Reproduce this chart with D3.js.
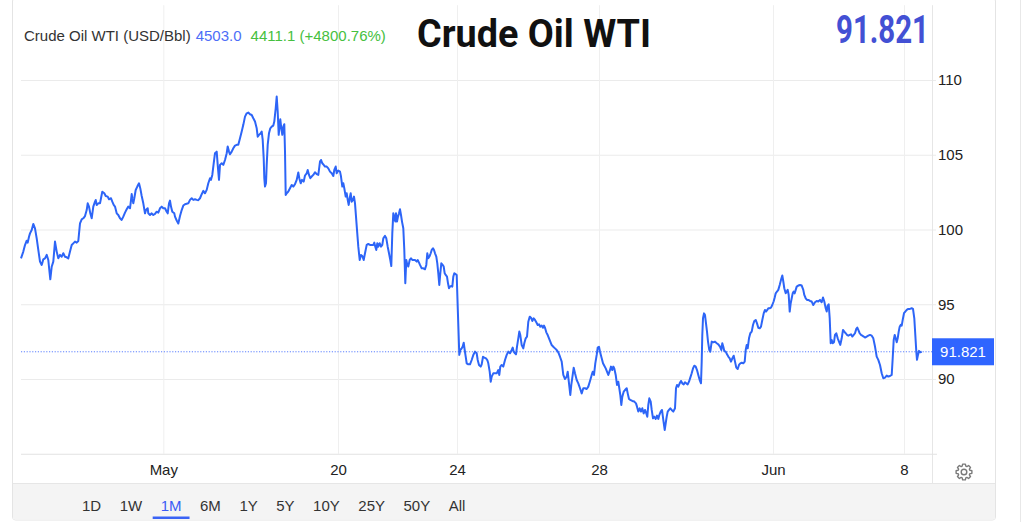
<!DOCTYPE html>
<html><head><meta charset="utf-8">
<script src="https://cdn.jsdelivr.net/npm/d3@7/dist/d3.min.js"></script>
<style>html,body{margin:0;padding:0;background:#fff;}svg{display:block;}</style>
</head><body><svg id="c" width="1024" height="528"></svg>
<script>
// ---- DATA: [trading-hour offset, price] ----
const pricesWeek1 = [[0,98.07],[2.3,98.52],[4,98.96],[5.7,99.25],[6.7,99.12],[8,99.52],[9,99.74],[10.7,99.97],[12.3,100.37],[14,100.08],[15.7,99.41],[17.3,98.63],[19,97.85],[20.7,97.63],[22.3,98.0],[24,98.07],[25.7,98.3],[27.3,97.96],[28.3,97.29],[29.3,96.67],[30.7,97.51],[32.3,97.85],[34,99.19],[35.7,98.52],[37.3,98.07],[39,98.3],[40.7,98.18],[42.3,98.41],[44,98.18],[45.7,98.14],[47.3,98.07],[49,98.52],[50.7,98.96],[52.3,99.07],[54,99.19],[55.7,99.12],[57.3,99.23],[59,100.41],[60.7,100.68],[62.3,100.75],[64,100.9],[65.7,101.3],[66.7,101.75],[68,101.53],[69.3,101.08],[70.7,100.75],[72.3,101.53],[74,101.86],[74.7,101.97],[75.7,101.64],[77.3,101.75],[79,101.75],[80,102.09],[81.3,102.53],[83.3,102.42],[84.7,102.24],[86.7,102.2],[88,102.02],[90,102.09],[91.3,101.86],[92.7,101.64],[94,101.53],[95.7,101.08],[97.3,100.97],[99,100.75],[100.7,100.64],[102.3,100.86],[104,101.13],[105.7,101.35],[107.3,101.53],[109,101.42],[110,101.97],[110.7,102.37],[111.3,102.09],[112.3,101.75],[113.3,102.09],[114.7,102.64],[116.3,102.87],[118,103.09],[119.3,102.75],[120.7,102.24],[122.3,101.75],[124,101.08],[125,101.3],[126.7,101.42],[127.3,101.08],[129,100.97],[130.7,101.08],[132.3,100.97],[134,101.04],[135.7,101.19],[137.3,101.13],[139,101.42],[140.7,101.53],[142.3,101.42],[144,101.42],[145.7,101.19],[146.7,101.08],[148,101.75],[149,101.93],[150,101.53],[151.3,101.19],[153.3,101.08],[154,100.86],[155.7,100.6],[157.3,100.4],[159,100.9],[160.7,101.3],[162.3,101.6]];
const pricesWeek2 = [[164,101.69],[167.3,101.75],[169,101.98],[170.7,102.09],[172.3,101.98],[174,102.02],[175.7,101.98],[177.3,101.96],[179,102.09],[180.7,102.36],[182.3,102.58],[184,102.42],[185.7,102.65],[187.3,103.09],[189,103.43],[190,103.32],[191.3,103.65],[192.7,104.43],[194,105.1],[195.7,105.21],[196.7,104.32],[198,103.32],[199,104.32],[200.7,104.43],[202.3,104.32],[204,104.65],[205.7,105.1],[206.7,105.55],[208,105.21],[209,105.03],[210.7,105.21],[212.3,105.43],[214,105.61],[215.7,105.66],[217.3,105.66],[219,106.1],[220.7,106.55],[222.3,107.0],[224,107.55],[225.7,107.77],[227.3,107.82],[229,107.71],[230.7,107.66],[232.3,107.44],[234,107.22],[235.7,106.77],[236.7,106.21],[238,106.33],[239.7,106.44],[240.7,106.55],[241.7,105.99],[242.7,104.76],[243.3,103.43],[244,102.87],[245,103.09],[245.7,104.32],[246.7,105.66],[248,106.44],[249.3,106.77],[250.7,106.88],[252.3,106.95],[253.3,107.22],[254.7,108.11],[255.7,108.89],[256.7,107.89],[257.7,106.33],[258.7,107.0],[259.3,107.37],[260.3,106.77],[261.3,106.33],[262.3,106.88],[263.3,107.04],[264,105.21],[264.7,102.31],[265.7,102.42],[267.3,102.54],[269,102.76],[270.7,102.98],[272.3,102.87],[274,103.03],[275.7,103.32],[277.3,103.81],[278.3,103.43],[279.7,103.09],[281,103.32],[282.7,103.2],[284,103.61],[285.7,103.76],[286.7,103.98],[288,103.65],[289.3,103.43],[290.7,103.54],[292.3,103.65],[294,103.83],[295.7,103.7],[297.3,103.65],[299,104.54],[300,104.65],[301.3,104.43],[302.7,104.32],[304,104.21]];
const pricesWeek3 = [[305.7,104.21],[307.3,104.09],[309,103.87],[310.7,103.76],[312.3,103.58],[313.3,103.98],[314.7,104.21],[315.7,103.76],[317.3,103.94],[319,103.87],[320,103.54],[321.3,102.87],[322.3,103.09],[323.3,102.76],[324.7,102.2],[325.7,102.42],[326.7,101.98],[327.7,101.64],[328.7,102.09],[329.7,102.42],[330.7,101.86],[332,101.98],[333,102.2],[334,101.75],[335,100.86],[336,99.97],[337.3,98.85],[338.7,97.96],[340,98.3],[341.3,98.23],[342.7,97.96],[344,98.41],[345.7,98.97],[347.3,99.03],[349,98.97],[350.7,98.97],[352.3,98.97],[353.3,99.12],[354.3,98.85],[355.3,98.63],[356.3,99.08],[357.3,98.85],[358.7,99.08],[360,98.85],[361.3,98.97],[362.3,99.41],[364,99.57],[365.3,99.41],[366.7,98.85],[368,98.41],[369.3,97.96],[370.3,97.56],[371.3,99.75],[372.3,101.08],[373.3,100.86],[374.3,100.53],[375,101.08],[376,100.53],[377,100.86],[378,101.08],[379,101.35],[380,100.97],[381,100.53],[382.3,100.08],[383.3,98.63],[384.3,96.4],[385.3,97.96],[386.3,97.63],[387.3,97.52],[388.7,97.96],[390,98.07],[391.3,97.96],[392.7,97.96],[394,97.96],[395.7,97.85],[396.7,97.96],[398,97.78],[399,97.63],[400.7,97.4],[402.3,97.4],[404,97.34],[405.3,97.63],[406.3,98.41],[407.3,98.07],[408.7,98.23],[409.7,98.41],[410.7,98.63],[412,98.74],[413,98.63],[414,98.41],[415.3,98.19],[416.3,97.74],[417.3,97.07],[418.3,96.29],[419.3,97.07],[420.3,97.74],[421.7,97.63],[422.7,97.52],[423.7,97.07],[424.7,96.96],[426,96.85],[427,96.4],[428,96.07],[429,96.18],[430,96.22],[431.3,96.18],[432.3,96.85],[433.3,97.07],[434.3,97.03],[435.7,96.96],[436.7,94.84],[437.7,92.83],[438.3,91.61],[439.3,91.94],[440.7,92.05],[441.7,92.17],[442.7,92.43],[443.7,91.94],[444.7,91.5],[445.7,91.05],[447.3,90.98],[449,90.98],[450.7,91.27],[452.3,91.61],[454,91.83]];
const pricesWeek4 = [[455.7,91.72],[456.7,91.27],[458,90.94],[459.7,90.83],[460.7,90.98],[462,91.49],[463.3,91.43],[465,91.38],[466.3,91.27],[467.3,91.05],[468.7,90.49],[469.7,89.82],[470.7,90.16],[472.3,90.38],[474,90.38],[475.7,90.38],[477.3,90.6],[478.3,90.27],[479.3,90.83],[480.7,90.94],[482.3,90.83],[484,91.27],[485.7,91.61],[487.3,91.83],[489,91.72],[490.7,91.94],[491.7,92.1],[492.7,91.83],[494,91.72],[495,91.65],[496,92.16],[497.3,92.72],[498.3,93.17],[499.3,92.94],[500.7,92.27],[502.3,92.05],[503.3,92.39],[504.7,92.72],[506,92.83],[507.3,93.83],[508.7,94.17],[510,94.1],[511.3,93.88],[512.7,94.06],[514,93.95],[515.3,93.79],[516.7,93.61],[518,93.66],[519.3,93.5],[520.7,93.57],[522,93.43],[523,93.57],[524,93.43],[525.3,93.12],[526.7,92.94],[528,92.72],[529.3,92.5],[530.7,92.27],[532.3,92.16],[534,92.05],[535.7,91.94],[537.3,91.78],[539,91.49],[540.7,91.16],[542.3,90.27],[544,90.0],[545.7,90.16],[546.7,90.49],[548,89.71],[549.3,88.93],[550.3,89.6],[551.7,90.27],[552.7,90.76],[554,90.38],[555.7,89.93],[557.3,89.71],[559,89.38],[560.7,89.04],[562.3,89.38],[564,89.38],[565.7,89.33],[567.3,89.49],[569,89.87],[570.7,90.27],[571.7,90.49],[573,90.27],[574.3,91.05],[575.7,91.61],[576.7,92.1],[578,92.16],[579,91.83],[580.7,91.38],[582,91.05],[583.3,90.89],[584.7,90.71],[586,90.49],[587.3,90.27],[588.7,90.54],[590,90.83],[591.3,90.6],[592.3,90.83],[593.3,90.71],[594.7,90.27],[596,89.6],[597.3,89.82],[598.3,89.38],[599.3,88.93],[600.3,88.26],[601.3,88.82],[602.7,89.15],[604,89.26]];
const pricesWeek5 = [[605.7,89.38],[606.7,89.04],[608,88.66],[609.3,88.6],[611.3,88.53],[613.3,88.49],[615,88.37],[616,88.15],[617.3,87.82],[618.7,88.04],[620,87.82],[621.3,88.04],[622.7,87.7],[624,87.93],[625.3,87.7],[626.3,87.48],[627.3,88.26],[628.3,88.71],[629.7,88.49],[630.7,87.93],[632,87.37],[633.3,87.48],[634.7,87.33],[636,87.55],[637.3,87.33],[638.3,87.59],[639.7,87.82],[641,87.93],[642.3,87.26],[643.7,86.59],[644.7,87.04],[645.7,87.48],[646.7,87.82],[648,87.93],[649.3,88.04],[650.7,87.93],[652.3,87.82],[654,88.04],[655,89.38],[656,89.6],[657.3,89.49],[658.7,89.71],[660,89.87],[661.3,89.71],[662.7,89.64],[664,89.78],[665.3,89.71],[666.7,89.64],[668,89.82],[669.3,90.09],[670.7,90.38],[672,90.71],[673.3,90.89],[674.7,90.83],[676,90.6],[677.3,90.27],[678.7,89.93],[680,89.71],[680.7,91.16],[681.3,92.94],[682,94.06],[683,94.39],[684,94.28],[685,93.72],[686,93.17],[687,92.5],[688.3,91.94],[689.3,91.83],[690.7,92.5],[692.3,92.45],[694,92.5],[695.7,92.39],[697.3,92.32],[699,92.16],[700.3,91.94],[701.3,92.39],[702.3,92.16],[703.3,91.87],[704.7,91.83],[706,91.65],[707.3,91.5],[708.7,91.38],[710,91.16],[711.3,91.38],[712.7,91.56],[714,91.16],[715.3,90.76],[716.7,90.67],[718,90.94],[719.3,91.05],[720.7,91.09],[722.3,91.05],[723.7,91.16],[724.7,91.94],[725.7,92.28],[726.7,92.05],[728,92.72],[729.3,93.06],[730.7,93.17],[732,93.61],[733.3,93.88],[734.7,93.95],[736,93.72],[737.3,93.43],[738.7,93.39],[740,93.5],[741.3,93.95],[742.7,94.39],[744,94.62],[745,94.51],[746.3,94.62],[747.3,94.73],[748.7,94.73],[750,94.77],[751.3,94.95],[752.7,95.2],[753.7,95.45]];
const pricesWeek6 = [[754.7,95.73],[756,95.85],[757.3,95.96],[758.7,96.29],[760,96.63],[761.3,96.92],[762.3,96.52],[763.3,96.07],[764.7,95.73],[765.7,95.85],[766.7,95.96],[767.7,95.62],[768.7,94.51],[769.7,95.07],[770.7,95.4],[771.7,95.73],[772.7,95.85],[773.7,95.73],[774.7,95.96],[775.7,96.18],[777.3,96.25],[779,96.29],[780.7,96.25],[782.3,95.96],[783.3,95.62],[784.7,95.4],[786,95.29],[787.3,95.29],[789,95.22],[790.7,95.18],[792.3,94.95],[794,95.13],[795.7,95.22],[797.3,95.18],[799,95.29],[800.7,95.13],[802,95.45],[803.3,95.18],[804.7,94.73],[805.7,94.51],[806.7,94.91],[807.7,95.0],[808.7,94.06],[809.7,92.39],[810.7,92.61],[811.7,92.39],[813,92.46],[814,92.95],[815.3,93.06],[816.7,92.72],[818,92.5],[819.3,92.28],[820.7,92.72],[822,93.28],[823.3,93.17],[824.7,93.06],[826,92.95],[827.3,92.9],[828.7,92.95],[830,92.99],[831.3,92.84],[832.7,92.95],[834,93.06],[835.3,93.35],[836.3,93.44],[837.3,93.28],[838.7,93.06],[840,92.95],[841.3,92.9],[842.7,92.84],[844,92.77],[845.7,92.84],[847.3,92.9],[849,92.95],[850.7,92.9],[852.3,92.72],[854,92.17],[855.7,91.5],[857.3,91.28],[859,90.94],[860.7,90.38],[862.3,90.05],[864,90.09],[865.7,90.23],[867.3,90.16],[869,90.2],[870.7,90.27],[871.7,91.39],[872.7,92.61],[873.7,92.95],[874.7,92.72],[875.7,92.46],[876.7,92.72],[877.7,93.17],[878.7,93.5],[879.7,93.62],[880.7,93.57],[881.7,93.95],[883,94.4],[884.3,94.51],[885.7,94.62],[887.3,94.69],[889,94.69],[890.7,94.73],[892,94.69],[893.3,94.06],[894.3,92.95],[895.3,91.83],[896,91.28],[897,91.61],[898,91.88],[899.3,91.79],[900.7,91.821]];

const lastPrice = 91.821;
const xTickHours  = [142.3, 317, 436, 578, 752, 883];
const xTickLabels = ["May", "20", "24", "28", "Jun", "8"];
const yTicks = [90, 95, 100, 105, 110];
const ranges = ["1D","1W","1M","6M","1Y","5Y","10Y","25Y","50Y","All"];
const activeRange = "1M";
const titleText = "Crude Oil WTI";
const legendName = "Crude Oil WTI (USD/Bbl)";
const legendHigh = "4503.0";
const legendChange = "4411.1 (+4800.76%)";

// ---- DRAW ----
const series = [].concat(pricesWeek1, pricesWeek2, pricesWeek3, pricesWeek4, pricesWeek5, pricesWeek6);
const FONT = "'Liberation Sans', Arial, sans-serif";
const svg = d3.select("#c");
svg.append("rect").attr("width",1024).attr("height",528).attr("fill","#fff");

const L = 21, R = 932, T = 5.23, B = 453.75;
const x = d3.scaleLinear().domain([0, 911]).range([L, R]);
const y = d3.scaleLinear().domain([85, 115]).range([B, T]);

// outer frame
svg.append("rect").attr("x",12.5).attr("y",-2).attr("width",983).attr("height",522)
  .attr("rx",3).attr("fill","none").attr("stroke","#e4e4e4");
svg.append("line").attr("x1",1020.5).attr("x2",1020.5).attr("y1",-2).attr("y2",522).attr("stroke","#e8e8e8");

// range bar
svg.append("rect").attr("x",13).attr("y",483.5).attr("width",982).attr("height",36).attr("fill","#f4f4f4");
svg.append("line").attr("x1",13).attr("x2",995).attr("y1",483.5).attr("y2",483.5).attr("stroke","#e6e6e6");

// horizontal gridlines
const gy = svg.append("g").attr("transform",`translate(936,0)`)
  .call(d3.axisLeft(y).tickValues(yTicks).tickSize(936 - L).tickFormat(""));
gy.select(".domain").remove();
gy.selectAll("line").attr("stroke","#ebebeb");

// vertical gridlines
const gx = svg.append("g").attr("transform",`translate(0,${B})`)
  .call(d3.axisTop(x).tickValues(xTickHours).tickSize(B - T).tickFormat(""));
gx.select(".domain").remove();
gx.selectAll("line").attr("stroke","#efefef");

// plot right border and bottom
svg.append("line").attr("x1",R+0.5).attr("x2",R+0.5).attr("y1",T).attr("y2",483.5).attr("stroke","#e6e6e6");
svg.append("line").attr("x1",L).attr("x2",937).attr("y1",B+0.5).attr("y2",B+0.5).attr("stroke","#e2e2e2");

// y labels
const yl = svg.append("g").attr("transform",`translate(938,0)`)
  .call(d3.axisRight(y).tickValues(yTicks).tickSize(0).tickPadding(0));
yl.select(".domain").remove();
yl.selectAll("text").attr("font-family",FONT).attr("font-size",15).attr("fill","#222");

// x labels
const xl = svg.append("g").attr("transform",`translate(0,464.4)`)
  .call(d3.axisBottom(x).tickValues(xTickHours).tickSize(0).tickPadding(0)
    .tickFormat((d,i) => xTickLabels[i]));
xl.select(".domain").remove();
xl.selectAll("text").attr("font-family",FONT).attr("font-size",15).attr("fill","#222");

// last price dotted line
svg.append("line").attr("x1",L).attr("x2",R).attr("y1",y(lastPrice)).attr("y2",y(lastPrice))
  .attr("stroke","#5d80ff").attr("stroke-width",1).attr("stroke-dasharray","1.2,1.6");

// price line
svg.append("path").datum(series)
  .attr("fill","none").attr("stroke","#2d65f7").attr("stroke-width",2)
  .attr("stroke-linejoin","round")
  .attr("d", d3.line().x(d => x(d[0])).y(d => y(d[1])));

// last price label
svg.append("rect").attr("x",R).attr("y",y(lastPrice)-13.5).attr("width",62).attr("height",27).attr("fill","#2f65ff");
svg.append("text").attr("x",R+31).attr("y",y(lastPrice)+5.5).attr("text-anchor","middle")
  .attr("font-family",FONT).attr("font-size",15).attr("fill","#fff").text(d3.format(".3f")(lastPrice));

// header legend
const hdr = svg.append("text").attr("x",24).attr("y",40.8).attr("font-family",FONT).attr("font-size",15);
hdr.append("tspan").attr("fill","#333").text(legendName);
hdr.append("tspan").attr("fill","#4d6ef7").attr("dx",5).text(legendHigh);
hdr.append("tspan").attr("fill","#46c040").attr("dx",9).text(legendChange);

// title
svg.append("text").attr("x",534).attr("y",46.6).attr("text-anchor","middle")
  .attr("font-family","Roboto, 'DejaVu Sans', sans-serif").attr("font-weight",700).attr("font-size",39.5)
  .attr("fill","#111").attr("textLength",234).attr("lengthAdjust","spacingAndGlyphs").text(titleText);

// big value
svg.append("text").attr("x",929).attr("y",43.4).attr("text-anchor","end")
  .attr("font-family","Roboto, 'DejaVu Sans', sans-serif").attr("font-weight",700).attr("font-size",38.5)
  .attr("fill","#4350d4").attr("textLength",93).attr("lengthAdjust","spacingAndGlyphs")
  .text(d3.format(".3f")(lastPrice));

// range buttons
let cx = 82;
const rg = svg.append("g");
ranges.forEach(r => {
  const t = rg.append("text").attr("x",cx).attr("y",510.8).attr("font-family",FONT).attr("font-size",15)
    .attr("fill", r === activeRange ? "#3a5cf5" : "#333").text(r);
  const w = t.node().getComputedTextLength();
  if (r === activeRange) {
    rg.append("rect").attr("x",cx-8).attr("y",516.5).attr("width",w+16).attr("height",2.5).attr("fill","#3a63f5");
  }
  cx += w + 18.5;
});

// gear icon
const gc = [964, 472], teeth = 8, rO = 8, rI = 6.1;
const gpts = [];
for (let i = 0; i < teeth; i++) {
  const a = i * 2 * Math.PI / teeth;
  gpts.push([a - 0.30, rI], [a - 0.17, rO], [a + 0.17, rO], [a + 0.30, rI]);
}
const gearLine = d3.lineRadial().angle(d => d[0]).radius(d => d[1]).curve(d3.curveLinearClosed);
svg.append("path").attr("transform",`translate(${gc[0]},${gc[1]})`).attr("d", gearLine(gpts))
  .attr("fill","none").attr("stroke","#7a7a7a").attr("stroke-width",1.4).attr("stroke-linejoin","round");
svg.append("circle").attr("cx",gc[0]).attr("cy",gc[1]).attr("r",2.8).attr("fill","none")
  .attr("stroke","#7a7a7a").attr("stroke-width",1.4);
</script></body></html>
